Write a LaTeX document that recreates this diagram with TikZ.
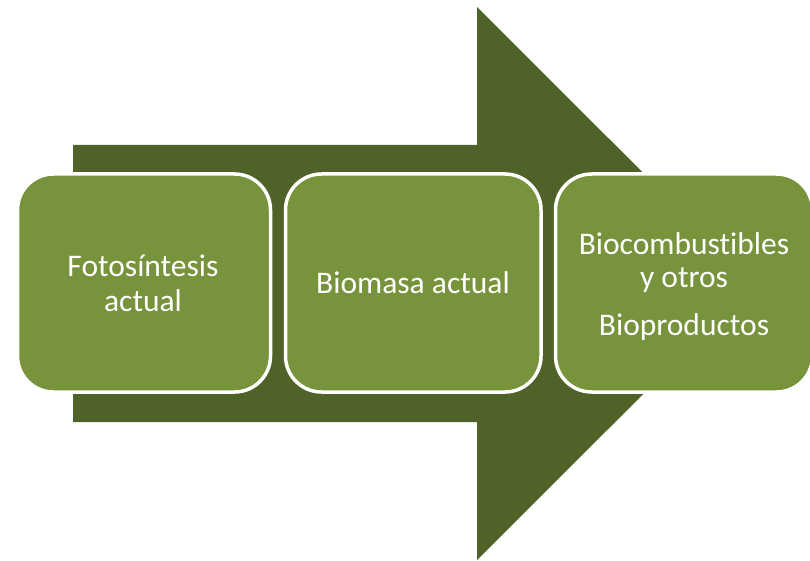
\documentclass[tikz,border=0pt]{standalone}
\usepackage{fontspec}
\setmainfont{Carlito}[Ligatures=NoCommon]
\definecolor{arrowgreen}{HTML}{4F6228}
\definecolor{boxgreen}{HTML}{77933C}
\begin{document}
\begin{tikzpicture}[x=1pt,y=-1pt,
  stage/.style={draw=white, line width=3.5pt, fill=boxgreen, rounded corners=36pt,
    minimum width=253pt, minimum height=218pt, inner sep=0pt, outer sep=0pt, anchor=north west},
  lbl/.style={text=white, font=\fontsize{31.5}{34}\selectfont, align=center, anchor=base, inner sep=0pt}]
\useasboundingbox (0,0) rectangle (810,561);
\fill[arrowgreen] (73,145) -- (477,145) -- (477,7) -- (754,283.5) -- (477,560) -- (477,422) -- (73,422) -- cycle;
\node[stage] (b1) at (17.5,174) {};
\node[stage, minimum width=255.5pt] (b2) at (285.5,174) {};
\node[stage, minimum width=257pt] (b3) at (555.5,174) {};
\node[lbl] (t1) at (143,311) {Fotosíntesis\\[1pt]actual};
\node[lbl] (t2) at (413,293) {Biomasa actual};
\node[lbl] (t3) at (684,335) {Biocombustibles\\[-1pt]y otros\\[14pt]Bioproductos};
\end{tikzpicture}
\end{document}
